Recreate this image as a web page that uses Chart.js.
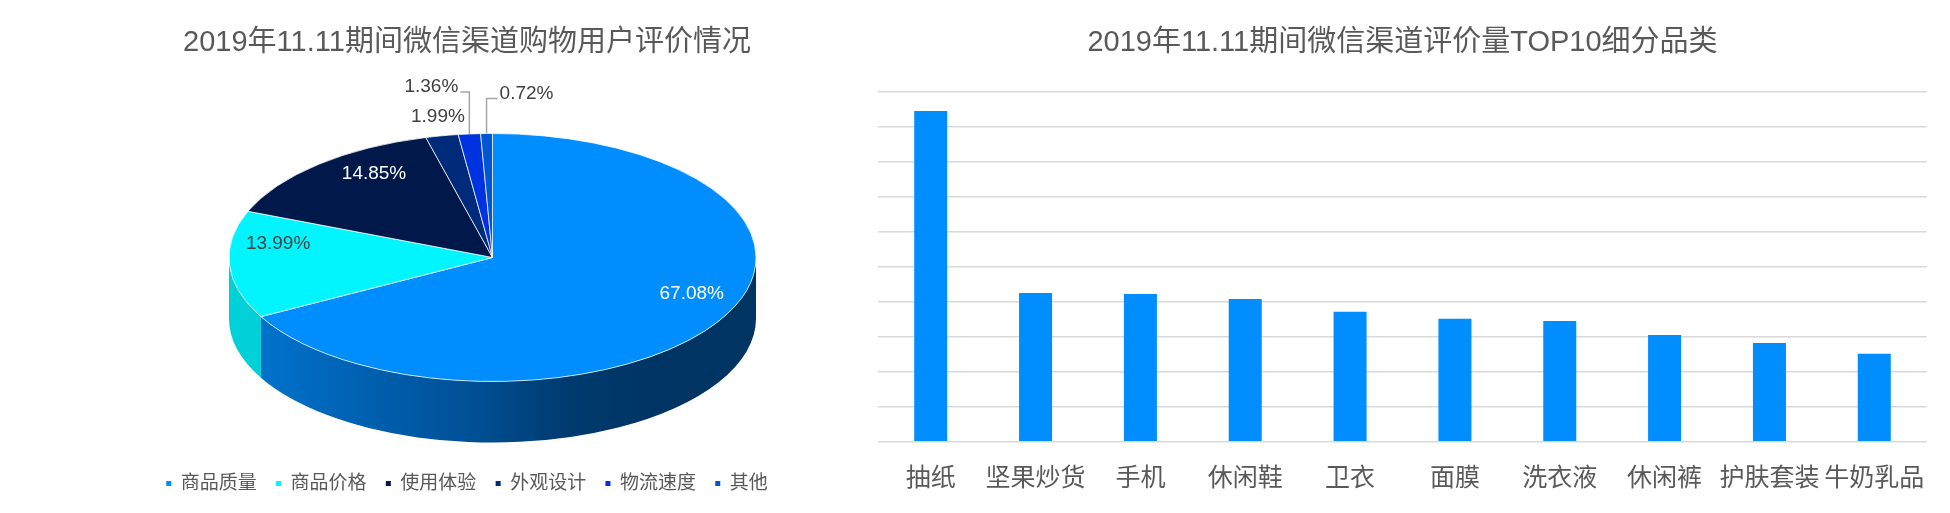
<!DOCTYPE html>
<html>
<head>
<meta charset="utf-8">
<script src="https://cdn.jsdelivr.net/npm/chart.js@4.4.1/dist/chart.umd.min.js"></script>
<style>
  html, body { margin: 0; padding: 0; background: #ffffff; }
  #wrap { position: relative; width: 1950px; height: 513px; overflow: hidden; background: #ffffff; }
  #wrap canvas { position: absolute; top: 0; }
  #pie { left: 0; width: 934px; height: 513px; }
  #bar { left: 860px; width: 1090px; height: 513px; }
</style>
</head>
<body>
<div id="wrap">
  <canvas id="pie" width="934" height="513"></canvas>
  <canvas id="bar" width="1090" height="513"></canvas>
</div>
<script>
// ---- data ----
const pieTitle = '2019年11.11期间微信渠道购物用户评价情况';
const reviewAspects = ['商品质量', '商品价格', '使用体验', '外观设计', '物流速度', '其他'];
const reviewShares = [67.08, 13.99, 14.85, 1.99, 1.36, 0.72];

const barTitle = '2019年11.11期间微信渠道评价量TOP10细分品类';
const topCategories = ['抽纸', '坚果炒货', '手机', '休闲鞋', '卫衣', '面膜', '洗衣液', '休闲裤', '护肤套装', '牛奶乳品'];
const reviewVolume = [9.45, 4.25, 4.22, 4.08, 3.71, 3.51, 3.45, 3.05, 2.82, 2.51];
const volumeAxisMax = 10;
const volumeAxisStep = 1;

// ---- styles ----
const FONT = '"Liberation Sans", "Noto Sans CJK SC", sans-serif';
const TEXT_GREY = '#595959';
Chart.defaults.font.family = FONT;
Chart.defaults.color = TEXT_GREY;

const sliceColors = ['#008EFF', '#00F5FF', '#00184A', '#002A7A', '#0033E0', '#0055D5'];
// colour stops of each slice's side wall, left to right across the pie
const wallFill = [
  [[0, '#0078D4'], [0.27, '#005FAF'], [0.46, '#005096'], [0.65, '#003A6E'], [0.82, '#003464'], [1, '#003562']],
  [[0, '#00D0D8'], [1, '#00C4CC']],
  [[0, '#00102E'], [1, '#00102E']],
  [[0, '#001C52'], [1, '#001C52']],
  [[0, '#0024A0'], [1, '#0024A0']],
  [[0, '#003C98'], [1, '#003C98']]
];
// percentage label placement: inside = fraction of the radius, otherwise offset from the rim
const sliceLabelStyle = [
  { inside: 0.88, color: '#FFFFFF' },
  { inside: 0.815, color: '#404040' },
  { inside: 0.68, color: '#FFFFFF' },
  { dx: -4, dy: -19, color: '#404040' },
  { dx: -38, dy: -47, color: '#404040', leader: true },
  { dx: 40, dy: -40, color: '#404040', leader: true }
];

const PIE_RADIUS = 263.5;
const PIE_TILT = 124 / 263.5;   // vertical squash of the tilted disc
const PIE_DEPTH = 61;           // thickness of the disc
const PIE_SHIFT_X = 25.5;       // disc sits a little right of the title/legend centre
const PIE_LIFT = 20;            // perspective lift of the apex for inner labels

function pieGeom(chart) {
  const arcs = chart.getDatasetMeta(0).data;
  const a = arcs[0];
  return { arcs, cx: a.x + PIE_SHIFT_X, cy: a.y, rx: a.outerRadius, ry: a.outerRadius * PIE_TILT };
}

// draws the pie as a thick tilted disc: side wall first, then the squashed top face
const pie3d = {
  id: 'pie3d',
  beforeDatasetsDraw(chart) {
    const ctx = chart.ctx;
    const { arcs, cx, cy, rx, ry } = pieGeom(chart);
    arcs.forEach((arc, i) => {
      const a0 = Math.max(arc.startAngle, 0);
      const a1 = Math.min(arc.endAngle, Math.PI);
      if (a1 <= a0) return;
      const g = ctx.createLinearGradient(cx - rx, 0, cx + rx, 0);
      wallFill[i].forEach(([o, c]) => g.addColorStop(o, c));
      ctx.save();
      ctx.beginPath();
      ctx.ellipse(cx, cy, rx, ry, 0, a0, a1, false);
      ctx.ellipse(cx, cy + PIE_DEPTH, rx, ry, 0, a1, a0, true);
      ctx.closePath();
      ctx.fillStyle = g;
      ctx.fill();
      ctx.restore();
    });
    ctx.save();
    ctx.translate(PIE_SHIFT_X, cy);
    ctx.scale(1, PIE_TILT);
    ctx.translate(0, -cy);
  },
  afterDatasetsDraw(chart) {
    const ctx = chart.ctx;
    ctx.restore();
    const { arcs, cx, cy, rx, ry } = pieGeom(chart);
    ctx.save();
    ctx.font = '19px ' + FONT;
    ctx.textAlign = 'center';
    ctx.textBaseline = 'middle';
    arcs.forEach((arc, i) => {
      const st = sliceLabelStyle[i];
      const mid = (arc.startAngle + arc.endAngle) / 2;
      const text = reviewShares[i].toFixed(2) + '%';
      let x, y;
      if (st.inside) {
        x = cx + st.inside * rx * Math.cos(mid);
        y = cy - PIE_LIFT + st.inside * ry * Math.sin(mid);
      } else {
        const ex = cx + rx * Math.cos(mid);
        const ey = cy + ry * Math.sin(mid);
        x = ex + st.dx;
        y = ey + st.dy;
        if (st.leader) {
          const w = ctx.measureText(text).width;
          const side = st.dx < 0 ? x + w / 2 + 2 : x - w / 2 - 2;
          ctx.beginPath();
          ctx.moveTo(side, y + 5);
          ctx.lineTo(ex, y + 5);
          ctx.lineTo(ex, ey);
          ctx.strokeStyle = '#A6A6A6';
          ctx.lineWidth = 1.5;
          ctx.stroke();
        }
      }
      ctx.fillStyle = st.color;
      ctx.fillText(text, x, y);
    });
    ctx.restore();
  }
};

const titleOpts = (text, bottomPad) => ({
  display: true,
  text,
  color: TEXT_GREY,
  font: { family: FONT, size: 29, weight: 'normal' },
  padding: { top: 25.5, bottom: bottomPad }
});

// ---- pie: review aspects ----
new Chart(document.getElementById('pie'), {
  type: 'pie',
  data: {
    labels: reviewAspects,
    datasets: [{
      data: reviewShares,
      backgroundColor: sliceColors,
      borderColor: '#FFFFFF',
      borderWidth: 1,
      radius: PIE_RADIUS,
      hoverOffset: 0,
      clip: false
    }]
  },
  options: {
    responsive: false,
    animation: false,
    devicePixelRatio: 1,
    layout: { padding: { left: 0, right: 0, top: 0, bottom: 10 } },
    plugins: {
      tooltip: { enabled: false },
      title: titleOpts(pieTitle, 0),
      legend: {
        position: 'bottom',
        labels: {
          boxWidth: 5,
          boxHeight: 5,
          padding: 19.3,
          color: TEXT_GREY,
          font: { size: 19 },
          generateLabels(chart) {
            return Chart.overrides.doughnut.plugins.legend.labels.generateLabels(chart)
              .map(l => Object.assign(l, { lineWidth: 0, strokeStyle: 'rgba(0,0,0,0)' }));
          }
        }
      }
    }
  },
  plugins: [pie3d]
});

// ---- bar: top 10 categories by review volume ----
new Chart(document.getElementById('bar'), {
  type: 'bar',
  data: {
    labels: topCategories,
    datasets: [{
      data: reviewVolume,
      backgroundColor: '#008EFF',
      categoryPercentage: 1,
      barPercentage: 0.315
    }]
  },
  options: {
    responsive: false,
    animation: false,
    devicePixelRatio: 1,
    layout: { padding: { left: 18.3, right: 23.3, top: 0, bottom: -3.3 } },
    plugins: {
      legend: { display: false },
      tooltip: { enabled: false },
      title: titleOpts(barTitle, 31.4)
    },
    scales: {
      x: {
        grid: { display: false, drawTicks: false },
        border: { display: false },
        ticks: { color: TEXT_GREY, font: { size: 25 }, padding: 22.3, maxRotation: 0, autoSkip: false }
      },
      y: {
        min: 0,
        max: volumeAxisMax,
        ticks: { display: false, stepSize: volumeAxisStep },
        grid: { color: '#D9D9D9', lineWidth: 1.5, drawTicks: false },
        border: { display: false }
      }
    }
  }
});
</script>
</body>
</html>
